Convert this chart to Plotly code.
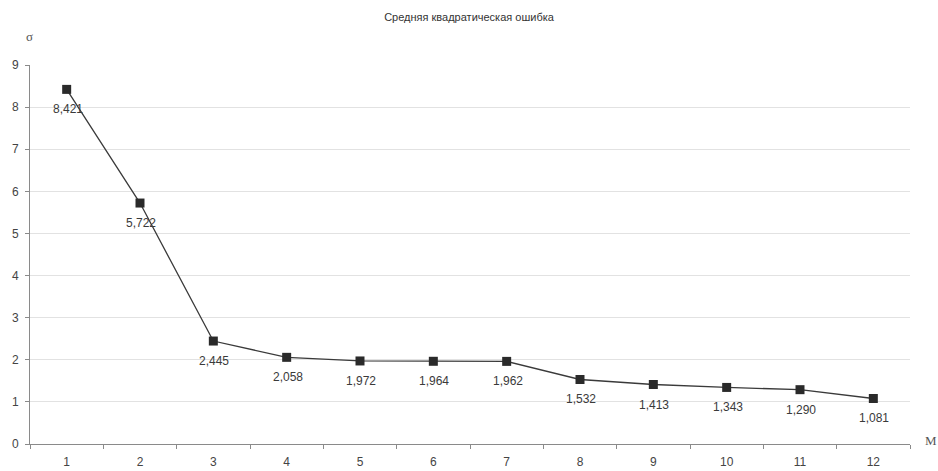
import plotly.graph_objects as go

# Number of terms M and the corresponding RMS error σ
m_values = [1, 2, 3, 4, 5, 6, 7, 8, 9, 10, 11, 12]
sigma = [8.421, 5.722, 2.445, 2.058, 1.972, 1.964, 1.962, 1.532, 1.413, 1.343, 1.290, 1.081]
y_ticks = [0, 1, 2, 3, 4, 5, 6, 7, 8, 9]

font_family = "Liberation Sans, Arial, sans-serif"

fig = go.Figure()
fig.add_trace(go.Scatter(
    x=m_values,
    y=sigma,
    mode="lines+markers",
    line=dict(color="#3a3a3a", width=1.3),
    marker=dict(symbol="square", size=9, color="#2a2a2a"),
    showlegend=False,
))

# Value labels under each point, with decimal comma
for m, s in zip(m_values, sigma):
    fig.add_annotation(
        x=m, y=s, xref="x", yref="y",
        text=f"{s:.3f}".replace(".", ","),
        showarrow=False, xanchor="center", yanchor="middle",
        yshift=-20, xshift=1,
        font=dict(family=font_family, size=12, color="#3a3a3a"),
    )

fig.update_layout(
    width=938,
    height=471,
    margin=dict(l=30, r=28, t=65, b=27, autoexpand=False),
    paper_bgcolor="white",
    plot_bgcolor="white",
    font=dict(family=font_family, size=12, color="#444444"),
    title=dict(
        text="Средняя квадратическая ошибка",
        x=0.5, xanchor="center",
        y=1 - 17 / 471, yanchor="middle",
        font=dict(family=font_family, size=11, color="#333333"),
    ),
    xaxis=dict(
        range=[0.5, 12.5],
        tickmode="array",
        tickvals=m_values,
        ticks="",
        ticklabelstandoff=7,
        automargin=False,
        showgrid=False,
        zeroline=False,
        showline=True,
        linecolor="#8a8a8a",
        linewidth=1,
        tickfont=dict(size=12, color="#444444"),
        minor=dict(tick0=0.5, dtick=1, ticks="outside", ticklen=4,
                   tickcolor="#8a8a8a", showgrid=False),
    ),
    yaxis=dict(
        range=[0, 9],
        tickmode="array",
        tickvals=y_ticks,
        ticks="outside",
        ticklen=4,
        ticklabelstandoff=4,
        tickcolor="#8a8a8a",
        automargin=False,
        showgrid=True,
        gridcolor="#e2e2e2",
        zeroline=False,
        showline=True,
        linecolor="#8a8a8a",
        linewidth=1,
        tickfont=dict(size=12, color="#444444"),
    ),
)

# Axis name labels
fig.add_annotation(text="σ", xref="paper", yref="paper", x=0, y=1,
                   xanchor="center", yanchor="middle",
                   xshift=-1, yshift=29, showarrow=False,
                   font=dict(family="Liberation Serif, serif", size=13, color="#555555"))
fig.add_annotation(text="M", xref="paper", yref="paper", x=1, y=0,
                   xanchor="center", yanchor="middle",
                   xshift=21, yshift=4, showarrow=False,
                   font=dict(family="Liberation Serif, serif", size=13, color="#555555"))

fig.write_html("out.html")
